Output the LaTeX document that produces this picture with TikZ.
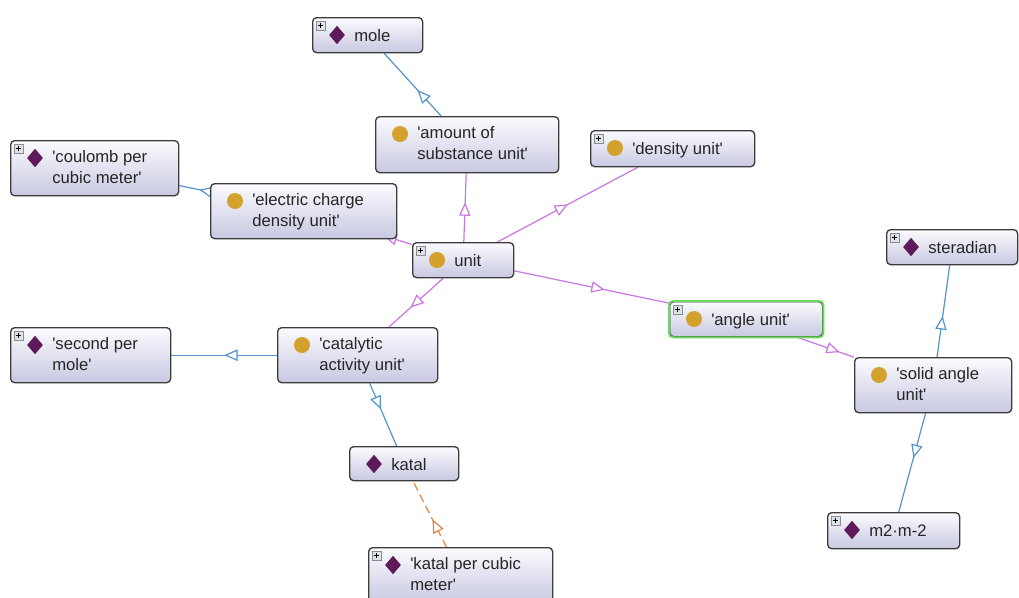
\documentclass[tikz,border=0pt]{standalone}
\usepackage{fontspec}
\newfontfamily\lblfont{Liberation Sans}
\usetikzlibrary{arrows.meta,decorations.markings,shapes.geometric}
\pgfdeclarelayer{canvas}
\pgfdeclarelayer{edges}
\pgfsetlayers{canvas,edges,main}

\definecolor{boxedge}{HTML}{3C3C3C}
\definecolor{boxtop}{HTML}{FBFBFE}
\definecolor{boxbot}{HTML}{C8C8E2}
\definecolor{indiv}{HTML}{5E1A5A}
\definecolor{classdot}{HTML}{D4A22C}
\definecolor{subclasslink}{HTML}{C876E2}
\definecolor{typelink}{HTML}{5494CC}
\definecolor{proplink}{HTML}{E4843E}
\definecolor{selected}{HTML}{6AD85A}
\definecolor{plusfill}{HTML}{DCE3EA}

\tikzset{
  ubox/.style={rectangle, rounded corners=3pt, draw=boxedge, line width=1pt,
    top color=boxtop, bottom color=boxbot, inner sep=0pt, anchor=north west},
  selbox/.style={draw=selected, line width=1.4pt},
  lbl/.style={font=\lblfont\fontsize{12.5}{15}\selectfont, inner sep=0pt,
    anchor=base west, text=black!85},
  classicon/.style={circle, fill=classdot, minimum size=12pt, inner sep=0pt},
  indivicon/.style={diamond, fill=indiv, minimum width=12pt, minimum height=14pt,
    inner sep=0pt},
  plusicon/.style={rectangle, draw=black!45, fill=plusfill, line width=0.4pt,
    minimum size=7pt, inner sep=0pt,
    path picture={
      \draw[line width=0.6pt, black]
        ([xshift=1.3pt]path picture bounding box.west) -- ([xshift=-1.3pt]path picture bounding box.east)
        ([yshift=-1.3pt]path picture bounding box.north) -- ([yshift=1.3pt]path picture bounding box.south);
    }},
  isa/.style={draw=subclasslink, color=subclasslink, line width=0.9pt},
  typeof/.style={draw=typelink, color=typelink, line width=0.9pt},
  prop/.style={draw=proplink, color=proplink, line width=0.9pt, dash pattern=on 6pt off 3.5pt},
  midtip/.style={postaction={decorate}, decoration={markings,
    mark=at position 0.5 with {\arrow{Triangle[length=10pt,width=8.5pt,fill=white,line width=0.9pt]}}}},
}

% #1 name, #2 x, #3 y, #4 width, #5 height, #6 icon style, #7 expand icon (1/0),
% #8 first line, #9 second line (may be empty)
\newcommand\ontobox[9]{%
  \node[ubox, minimum width=#4*0.75pt, minimum height=#5*0.75pt] (#1) at (#2,#3) {};
  \ifnum#7=1
    \node[plusicon] (#1-plus) at ([shift={(8.5,8.5)}]#1.north west) {};
  \fi
  \node[#6] (#1-icon) at ([shift={(25,18)}]#1.north west) {};
  \if\relax\detokenize{#9}\relax
    \node[lbl] (#1-l1) at ([shift={(42,24)}]#1.north west) {#8};
  \else
    \node[lbl] (#1-l1) at ([shift={(42,22)}]#1.north west) {#8};
    \node[lbl] (#1-l2) at ([shift={(42,43)}]#1.north west) {#9};
  \fi
}

% connector from #2 to #3, open triangle half way between the centres, pointing at #3
\newcommand\ontolink[3]{%
  \begin{pgfonlayer}{edges}
    \draw[#1] (#2) -- (#3);
    \path[#1, draw=none, midtip] (#2.center) -- (#3.center);
  \end{pgfonlayer}
}

\begin{document}
\begin{tikzpicture}[x=0.75pt, y=-0.75pt]
  \useasboundingbox (0,0) rectangle (1019,597);
  \begin{pgfonlayer}{canvas}
    \fill[white] (0,0) rectangle (1019,597);
  \end{pgfonlayer}
  \clip (0,0) rectangle (1019,597);

  \ontobox{mole}{312}{17}{110}{35}{indivicon}{1}{mole}{}
  \ontobox{amount}{375}{116}{183}{56}{classicon}{0}{'amount of}{substance unit'}
  \ontobox{density}{590}{130}{164}{36}{classicon}{1}{'density unit'}{}
  \ontobox{coulomb}{10}{140}{168}{55}{indivicon}{1}{'coulomb per}{cubic meter'}
  \ontobox{electric}{210}{183}{186}{55}{classicon}{0}{'electric charge}{density unit'}
  \ontobox{unit}{412}{242}{101}{35}{classicon}{1}{unit}{}
  \ontobox{angle}{669}{301}{153}{35}{classicon}{1}{'angle unit'}{}
  \ontobox{secmole}{10}{327}{160}{55}{indivicon}{1}{'second per}{mole'}
  \ontobox{catalytic}{277}{327}{160}{55}{classicon}{0}{'catalytic}{activity unit'}
  \ontobox{steradian}{886}{229}{131}{35}{indivicon}{1}{steradian}{}
  \ontobox{solid}{854}{357}{157}{55}{classicon}{0}{'solid angle}{unit'}
  \ontobox{katal}{349}{446}{109}{34}{indivicon}{0}{katal}{}
  \ontobox{kpcm}{368}{547}{184}{55}{indivicon}{1}{'katal per cubic}{meter'}
  \ontobox{msq}{827}{512}{132}{36}{indivicon}{1}{m2·m-2}{}

  % the selected class
  \path[selbox, rounded corners=3pt] (angle.north west) rectangle (angle.south east);

  \ontolink{typeof}{amount}{mole}
  \ontolink{isa}{unit}{amount}
  \ontolink{isa}{unit}{density}
  \ontolink{typeof}{electric}{coulomb}
  \ontolink{isa}{unit}{electric}
  \ontolink{isa}{unit}{angle}
  \ontolink{isa}{unit}{catalytic}
  \ontolink{typeof}{catalytic}{secmole}
  \ontolink{typeof}{catalytic}{katal}
  \ontolink{prop}{kpcm}{katal}
  \ontolink{isa}{angle}{solid}
  \ontolink{typeof}{solid}{steradian}
  \ontolink{typeof}{solid}{msq}
\end{tikzpicture}
\end{document}
